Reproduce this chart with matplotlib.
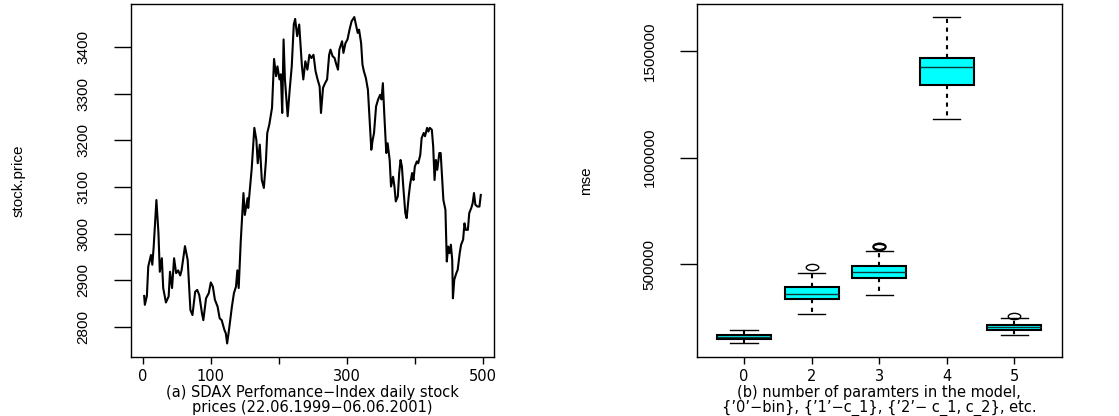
import matplotlib

matplotlib.use("Agg")
import matplotlib.pyplot as plt
from matplotlib.path import Path
from matplotlib.transforms import Affine2D


# SDAX performance index: trading day and index level
DAYS = [
    2, 3, 6, 8, 12, 14, 16, 20, 23, 25, 28, 30, 34, 38, 40, 43, 46, 49, 52, 55,
    57, 62, 66, 70, 73, 77, 80, 83, 87, 89, 93, 97, 100, 103, 106, 110, 113, 116,
    120, 122, 124, 127, 131, 134, 137, 139, 141, 144, 148, 150, 154, 155, 160,
    164, 167, 169, 172, 175, 178, 181, 183, 186, 188, 190, 193, 196, 198, 201,
    203, 205, 207, 209, 213, 216, 219, 222, 224, 227, 230, 234, 236, 239, 242,
    245, 248, 251, 254, 257, 260, 262, 265, 268, 271, 274, 276, 279, 282, 284,
    287, 289, 293, 295, 298, 301, 304, 307, 311, 314, 316, 318, 321, 323, 325,
    328, 331, 333, 336, 338, 340, 343, 346, 349, 351, 353, 355, 358, 360, 363,
    365, 368, 370, 372, 375, 377, 379, 381, 383, 386, 388, 391, 393, 396, 398,
    400, 403, 405, 408, 410, 413, 415, 418, 420, 422, 425, 427, 429, 431, 433,
    436, 438, 440, 442, 445, 447, 449, 451, 453, 455, 456, 458, 461, 463, 466,
    468, 471, 473, 475, 478, 480, 483, 485, 487, 489, 492, 495, 497,
]
PRICES = [
    2866, 2847, 2866, 2929, 2954, 2933, 2972, 3072, 3001, 2918, 2947, 2883, 2852,
    2865, 2918, 2883, 2947, 2915, 2921, 2910, 2921, 2973, 2943, 2836, 2825, 2875,
    2879, 2868, 2829, 2814, 2861, 2872, 2895, 2886, 2858, 2843, 2818, 2814, 2793,
    2786, 2764, 2796, 2843, 2872, 2886, 2921, 2883, 2983, 3087, 3040, 3076, 3055,
    3137, 3227, 3201, 3151, 3191, 3115, 3098, 3155, 3216, 3234, 3252, 3270, 3375,
    3338, 3359, 3331, 3342, 3259, 3417, 3331, 3252, 3309, 3359, 3449, 3461, 3424,
    3449, 3359, 3331, 3370, 3352, 3384, 3377, 3384, 3349, 3331, 3316, 3259, 3313,
    3323, 3331, 3384, 3395, 3381, 3377, 3366, 3352, 3395, 3413, 3388, 3409, 3417,
    3438, 3456, 3465, 3445, 3431, 3438, 3409, 3363, 3349, 3334, 3309, 3259, 3180,
    3201, 3216, 3273, 3288, 3298, 3288, 3323, 3259, 3173, 3194, 3158, 3101, 3122,
    3101, 3069, 3080, 3130, 3158, 3144, 3101, 3044, 3033, 3080, 3105, 3130, 3115,
    3144, 3155, 3151, 3169, 3205, 3216, 3209, 3227, 3219, 3227, 3223, 3187, 3115,
    3158, 3137, 3173, 3173, 3122, 3072, 3051, 2940, 2972, 2958, 2976, 2943, 2861,
    2901, 2915, 2922, 2958, 2976, 2987, 3022, 3008, 3008, 3044, 3055, 3065, 3087,
    3062, 3058, 3058, 3083,
]
DAY_TICKS = [0, 100, 200, 300, 400, 500]
DAY_TICK_LABELS = ["0", "100", "", "300", "", "500"]
PRICE_TICKS = [2800, 2900, 3000, 3100, 3200, 3300, 3400]

# mse of the fitted models, one box per number of parameters
MODEL_LABELS = ["0", "2", "3", "4", "5"]
MSE_WHISLO = [127000, 266000, 355000, 1179000, 168000]
MSE_Q1 = [149000, 336000, 433000, 1343000, 189000]
MSE_MED = [158000, 360000, 461000, 1424000, 202000]
MSE_Q3 = [166000, 392000, 489000, 1470000, 215000]
MSE_WHISHI = [189000, 456000, 559000, 1660000, 247000]
MSE_FLIERS = [[], [486000], [580000, 584000, 587000], [], [258000]]
MSE_TICKS = [500000, 1000000, 1500000]

CAPTION_A = "(a) SDAX Perfomance\u2212Index daily stock\nprices (22.06.1999\u221206.06.2001)"
CAPTION_B = ("(b) number of paramters in the model,\n"
             "{\u20190\u2019\u2212bin}, {\u20191\u2019\u2212c_1}, {\u20192\u2019\u2212 c_1, c_2}, etc.")

NARROW = ["Liberation Sans Narrow", "Liberation Sans", "DejaVu Sans"]
TEXT_SIZE = 10.5

plt.rcParams.update({
    "font.family": "DejaVu Sans",
    "font.size": TEXT_SIZE,
    "axes.linewidth": 1.0,
    "xtick.major.width": 1.0,
    "ytick.major.width": 1.0,
})


def style_axes(ax, caption, ylabel):
    ax.tick_params(axis="x", length=5, pad=4, labelsize=TEXT_SIZE)
    ax.tick_params(axis="y", length=12, pad=17, labelrotation=90, labelsize=11)
    for label in ax.get_yticklabels():
        label.set_fontfamily(NARROW)
        label.set_verticalalignment("center")
    # two-line caption sits under the tick labels, each line centred
    ax.set_xlabel(caption, va="top", linespacing=0.97, fontsize=TEXT_SIZE)
    ax.xaxis.set_label_coords(0.5, -0.081)
    ax.set_ylabel(ylabel, va="center", fontsize=11, family=NARROW)


def plot_prices(ax):
    ax.plot(DAYS, PRICES, color="black", linewidth=1.5, solid_joinstyle="round")
    ax.margins(x=0.04, y=0.04)
    ax.set_xticks(DAY_TICKS)
    ax.set_xticklabels(DAY_TICK_LABELS)
    ax.set_yticks(PRICE_TICKS)
    ax.set_yticklabels([str(v) for v in PRICE_TICKS])
    style_axes(ax, CAPTION_A, "stock.price")
    ax.yaxis.set_label_coords(-0.309, 0.5)


def plot_mse(ax):
    stats = []
    for i, name in enumerate(MODEL_LABELS):
        stats.append({
            "label": name,
            "whislo": MSE_WHISLO[i],
            "q1": MSE_Q1[i],
            "med": MSE_MED[i],
            "q3": MSE_Q3[i],
            "whishi": MSE_WHISHI[i],
            "fliers": MSE_FLIERS[i],
        })
    ellipse = Path.unit_circle().transformed(Affine2D().scale(1.0, 0.5))
    positions = list(range(1, len(stats) + 1))
    ax.bxp(
        stats,
        positions=positions,
        widths=0.8,
        capwidths=0.4,
        patch_artist=True,
        boxprops={"facecolor": "#00ffff", "edgecolor": "black", "linewidth": 1.5},
        medianprops={"color": "#103838", "linewidth": 1.0},
        whiskerprops={"color": "black", "linewidth": 1.5, "linestyle": (0, (2, 2.2))},
        capprops={"color": "black", "linewidth": 1.0},
        flierprops={"marker": ellipse, "markersize": 9, "markerfacecolor": "none",
                    "markeredgecolor": "black", "markeredgewidth": 1.0},
    )
    lo, hi = 0.5, len(stats) + 0.5
    pad = 0.04 * (hi - lo)
    ax.set_xlim(lo - pad, hi + pad)
    ax.margins(y=0.04)
    ax.set_xticks(positions)
    ax.set_xticklabels(MODEL_LABELS)
    ax.set_yticks(MSE_TICKS)
    ax.set_yticklabels([str(v) for v in MSE_TICKS])
    style_axes(ax, CAPTION_B, "mse")
    ax.yaxis.set_label_coords(-0.303, 0.5)


def main():
    fig = plt.figure(figsize=(11.19, 4.16), dpi=100)
    ax_a = fig.add_axes([0.1168, 0.1430, 0.3249, 0.8474])
    ax_b = fig.add_axes([0.6226, 0.1430, 0.3262, 0.8474])
    plot_prices(ax_a)
    plot_mse(ax_b)
    fig.savefig("out.png", dpi=100)


if __name__ == "__main__":
    main()
